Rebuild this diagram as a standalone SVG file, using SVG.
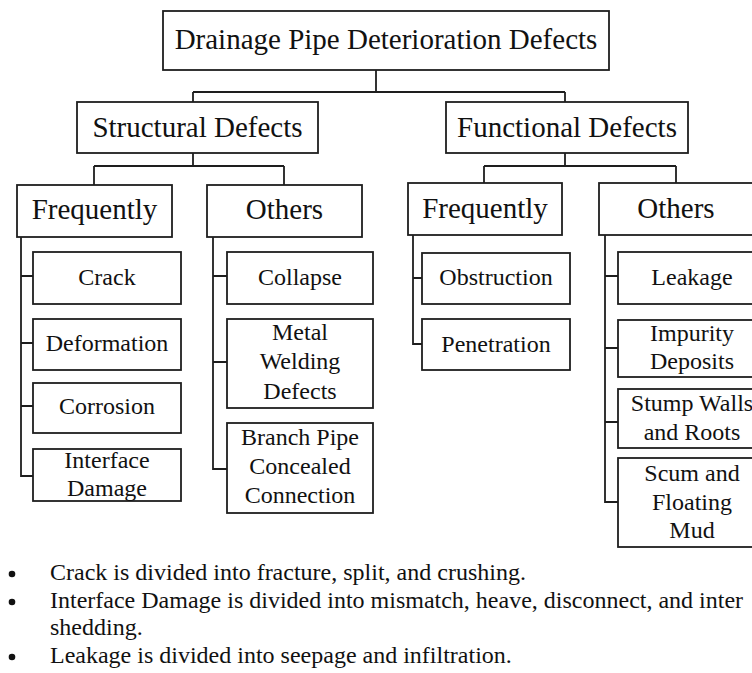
<svg xmlns="http://www.w3.org/2000/svg" width="752" height="673" viewBox="0 0 752 673">
  <style>
    .box { fill: #ffffff; stroke: #1e1e1e; stroke-width: 1.8; }
    .wire { fill: none; stroke: #1e1e1e; stroke-width: 1.8; }
    text { font-family: "Liberation Serif", "Times New Roman", serif; fill: #111111; }
    .h { font-size: 29px; text-anchor: middle; }
    .leaf { font-size: 24px; text-anchor: middle; }
    .note { font-size: 24px; }
  </style>
  <rect x="0" y="0" width="752" height="673" fill="#ffffff"/>

  <!-- connectors -->
  <g id="connectors" class="wire">
    <path d="M376 70 V92 M193 92 H565 M193 92 V102 M565 92 V102"/>
    <path d="M193 153 V166 M94 166 H284 M94 166 V185 M284 166 V185"/>
    <path d="M565 153 V166 M484 166 H676 M484 166 V183 M676 166 V183"/>
    <path d="M21 237 V476 H33 M21 276 H33 M21 343 H33 M21 406 H33"/>
    <path d="M213 237 V469 H227 M213 276 H227 M213 362 H227"/>
    <path d="M413 235 V344 H422 M413 278 H422"/>
    <path d="M605 235 V502 H618 M605 276 H618 M605 348 H618 M605 422 H618"/>
  </g>

  <!-- root -->
  <g id="root">
    <rect class="box" x="163" y="11" width="446" height="59"/>
    <text class="h" x="386" y="49">Drainage Pipe Deterioration Defects</text>
  </g>

  <!-- categories -->
  <g id="structural">
    <rect class="box" x="77" y="102" width="241" height="51"/>
    <text class="h" x="197.5" y="137">Structural Defects</text>
  </g>
  <g id="functional">
    <rect class="box" x="446" y="102" width="242" height="51"/>
    <text class="h" x="567" y="137">Functional Defects</text>
  </g>

  <!-- structural groups -->
  <g id="structural-frequently">
    <rect class="box" x="17" y="185" width="155" height="52"/>
    <text class="h" x="94.5" y="219">Frequently</text>
  </g>
  <g id="structural-others">
    <rect class="box" x="207" y="185" width="155" height="52"/>
    <text class="h" x="284.5" y="219">Others</text>
  </g>

  <!-- functional groups -->
  <g id="functional-frequently">
    <rect class="box" x="408" y="183" width="154" height="52"/>
    <text class="h" x="485" y="218">Frequently</text>
  </g>
  <g id="functional-others">
    <rect class="box" x="599" y="183" width="160" height="52"/>
    <text class="h" x="676" y="218">Others</text>
  </g>

  <!-- structural / frequently -->
  <g id="crack">
    <rect class="box" x="33" y="252" width="148" height="52"/>
    <text class="leaf" x="107" y="285">Crack</text>
  </g>
  <g id="deformation">
    <rect class="box" x="33" y="319" width="148" height="51"/>
    <text class="leaf" x="107" y="351">Deformation</text>
  </g>
  <g id="corrosion">
    <rect class="box" x="33" y="383" width="148" height="50"/>
    <text class="leaf" x="107" y="414">Corrosion</text>
  </g>
  <g id="interface-damage">
    <rect class="box" x="33" y="449" width="148" height="52"/>
    <text class="leaf" x="107" y="468">Interface</text>
    <text class="leaf" x="107" y="496">Damage</text>
  </g>

  <!-- structural / others -->
  <g id="collapse">
    <rect class="box" x="227" y="252" width="146" height="52"/>
    <text class="leaf" x="300" y="285">Collapse</text>
  </g>
  <g id="metal-welding">
    <rect class="box" x="227" y="319" width="146" height="89"/>
    <text class="leaf" x="300" y="340">Metal</text>
    <text class="leaf" x="300" y="369">Welding</text>
    <text class="leaf" x="300" y="399">Defects</text>
  </g>
  <g id="branch-pipe">
    <rect class="box" x="227" y="423" width="146" height="90"/>
    <text class="leaf" x="300" y="445">Branch Pipe</text>
    <text class="leaf" x="300" y="474">Concealed</text>
    <text class="leaf" x="300" y="503">Connection</text>
  </g>

  <!-- functional / frequently -->
  <g id="obstruction">
    <rect class="box" x="422" y="253" width="148" height="51"/>
    <text class="leaf" x="496" y="285">Obstruction</text>
  </g>
  <g id="penetration">
    <rect class="box" x="422" y="319" width="148" height="51"/>
    <text class="leaf" x="496" y="352">Penetration</text>
  </g>

  <!-- functional / others -->
  <g id="leakage">
    <rect class="box" x="618" y="252" width="148" height="52"/>
    <text class="leaf" x="692" y="285">Leakage</text>
  </g>
  <g id="impurity">
    <rect class="box" x="618" y="320" width="148" height="57"/>
    <text class="leaf" x="692" y="341">Impurity</text>
    <text class="leaf" x="692" y="369">Deposits</text>
  </g>
  <g id="stump-walls">
    <rect class="box" x="618" y="389" width="148" height="59"/>
    <text class="leaf" x="692" y="411">Stump Walls</text>
    <text class="leaf" x="692" y="440">and Roots</text>
  </g>
  <g id="scum">
    <rect class="box" x="618" y="458" width="148" height="89"/>
    <text class="leaf" x="692" y="481">Scum and</text>
    <text class="leaf" x="692" y="510">Floating</text>
    <text class="leaf" x="692" y="538">Mud</text>
  </g>

  <!-- notes -->
  <g id="notes">
    <circle cx="12" cy="574" r="3.3" fill="#111111"/>
    <circle cx="12" cy="602" r="3.3" fill="#111111"/>
    <circle cx="12" cy="657" r="3.3" fill="#111111"/>
    <text class="note" x="50" y="580">Crack is divided into fracture, split, and crushing.</text>
    <text class="note" x="50" y="608">Interface Damage is divided into mismatch, heave, disconnect, and inter</text>
    <text class="note" x="50" y="635">shedding.</text>
    <text class="note" x="50" y="663">Leakage is divided into seepage and infiltration.</text>
  </g>
</svg>
